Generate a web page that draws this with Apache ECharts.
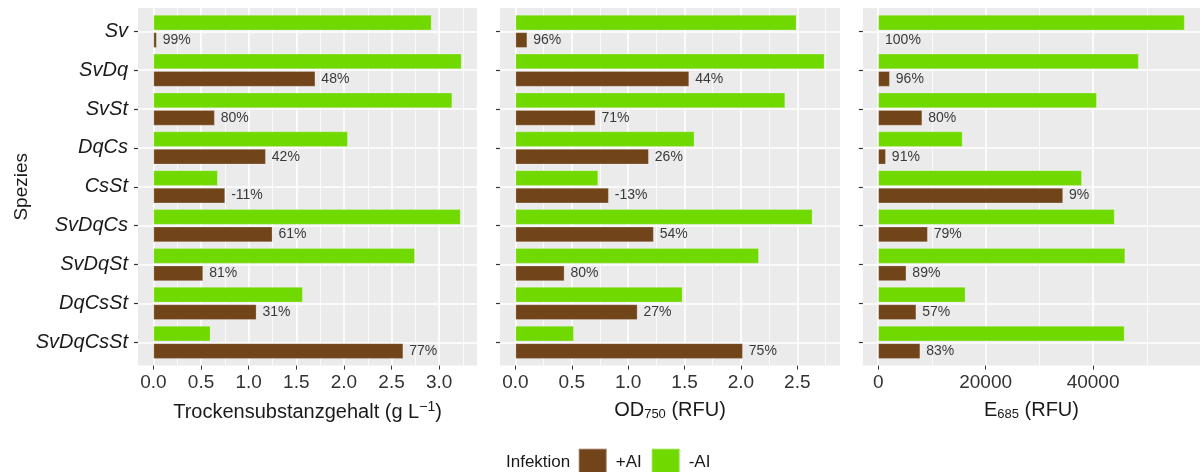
<!DOCTYPE html>
<html>
<head>
<meta charset="utf-8">
<script src="https://cdn.jsdelivr.net/npm/echarts@6/dist/echarts.min.js"></script>
<style>html,body{margin:0;padding:0;background:#fff}#c{width:1200px;height:472px}</style>
</head>
<body>
<div id="c"></div>
<script>
const categories = ['Sv','SvDq','SvSt','DqCs','CsSt','SvDqCs','SvDqSt','DqCsSt','SvDqCsSt'];

const dmMinus = [2.92, 3.235, 3.137, 2.041, 0.676, 3.225, 2.745, 1.568, 0.599];
const dmPlus  = [0.035, 1.70, 0.644, 1.18, 0.753, 1.25, 0.522, 1.082, 2.623];
const dmLabels = ['99%','48%','80%','42%','-11%','61%','81%','31%','77%'];

const odMinus = [2.493, 2.742, 2.393, 1.588, 0.734, 2.635, 2.159, 1.482, 0.518];
const odPlus  = [0.105, 1.541, 0.71, 1.183, 0.828, 1.227, 0.435, 1.083, 2.017];
const odLabels = ['96%','44%','71%','26%','-13%','54%','80%','27%','75%'];

const eMinus = [57060, 48510, 40700, 15700, 37930, 44020, 45990, 16250, 45870];
const ePlus  = [150, 2160, 8200, 1420, 34420, 9230, 5240, 7090, 7830];
const eLabels = ['100%','96%','80%','91%','9%','79%','89%','57%','83%'];

const dmTicks = [0, 0.5, 1, 1.5, 2, 2.5, 3];
const dmMinor = [0.25, 0.75, 1.25, 1.75, 2.25, 2.75, 3.25];
const odTicks = [0, 0.5, 1, 1.5, 2, 2.5];
const odMinor = [0.25, 0.75, 1.25, 1.75, 2.25, 2.75];
const eTicks = [0, 20000, 40000];
const eMinor = [10000, 30000, 50000];

const FONT = '"Liberation Sans", Arial, Helvetica, sans-serif';
const BROWN = '#71441a';
const GREEN = '#70d900';

const panels = [
  {left:138, width:339, minus:dmMinus, plus:dmPlus, labels:dmLabels, ticks:dmTicks, minor:dmMinor,
   fmt: v => v.toFixed(1), name:'{a|Trockensubstanzgehalt (g L}{s|−1}{a|)}', showY:true},
  {left:500, width:340, minus:odMinus, plus:odPlus, labels:odLabels, ticks:odTicks, minor:odMinor,
   fmt: v => v.toFixed(1), name:'{a|OD}{b|750}{a| (RFU)}', showY:false},
  {left:862.9, width:340, minus:eMinus, plus:ePlus, labels:eLabels, ticks:eTicks, minor:eMinor,
   fmt: v => String(v), name:'{a|E}{b|685}{a| (RFU)}', showY:false}
];

const TOP = 8, H = 357.6;
const band = H / (categories.length + 0.2);
const dTop = TOP + 0.1 * band, dH = band * categories.length;

const grid = [], xAxis = [], yAxis = [], series = [];
const catPos = categories.map((_, i) => i + 1);

panels.forEach((p, i) => {
  const M = Math.max(...p.minus, ...p.plus);
  const mn = -0.05 * M, mx = 1.05 * M;
  grid.push({left:p.left, top:TOP, width:p.width, height:H, show:true, backgroundColor:'#ebebeb', borderWidth:0});
  grid.push({left:p.left, top:dTop, width:p.width, height:dH, show:false});
  xAxis.push({
    type:'value', gridIndex:2*i, min:mn, max:mx,
    axisLine:{show:false, onZero:false},
    axisTick:{show:true, length:4, customValues:p.ticks, lineStyle:{color:'#333', width:1}},
    axisLabel:{customValues:p.ticks, formatter:p.fmt, fontSize:19, color:'#333', margin:8, fontFamily:FONT},
    splitLine:{show:true, lineStyle:{color:'#ffffff', width:1.6}},
    name:p.name, nameLocation:'middle', nameGap:35,
    nameTextStyle:{fontFamily:FONT, fontSize:20, color:'#1a1a1a',
      rich:{a:{fontSize:20, color:'#1a1a1a', fontFamily:FONT},
            s:{fontSize:14, color:'#1a1a1a', fontFamily:FONT, verticalAlign:'top', padding:[0,0,10,0]},
            b:{fontSize:13, color:'#1a1a1a', fontFamily:FONT, verticalAlign:'bottom', padding:[6,0,0,0]}}}
  });
  xAxis.push({
    type:'value', gridIndex:2*i, min:mn, max:mx,
    axisLine:{show:false, onZero:false}, axisLabel:{show:false},
    axisTick:{show:false, customValues:p.minor},
    splitLine:{show:true, lineStyle:{color:'#ffffff', width:0.8}}
  });
  xAxis.push({type:'value', gridIndex:2*i+1, min:mn, max:mx, show:false, axisLine:{onZero:false}});
  yAxis.push({
    type:'value', gridIndex:2*i, min:0.4, max:categories.length + 0.6, inverse:true,
    axisLine:{show:false, onZero:false}, axisLabel:{show:false},
    axisTick:{show:false, customValues:catPos},
    splitLine:{show:true, lineStyle:{color:'#ffffff', width:1.6}},
    name: i === 0 ? 'Spezies' : '', nameLocation:'middle', nameGap:107,
    nameTextStyle:{fontFamily:FONT, fontSize:19, color:'#1a1a1a'}
  });
  yAxis.push({
    type:'category', gridIndex:2*i+1, data:categories, inverse:true,
    axisLine:{show:false, onZero:false},
    axisTick:{show:true, alignWithLabel:true, length:4, lineStyle:{color:'#333', width:1.2}},
    axisLabel:{show:p.showY, fontSize:20, fontStyle:'italic', color:'#1a1a1a', margin:10, fontFamily:FONT},
    splitLine:{show:false}
  });
  series.push({
    type:'bar', name:'-AI', xAxisIndex:3*i+2, yAxisIndex:2*i+1, data:p.minus,
    barWidth: band * 0.4, barGap:'12.5%',
    itemStyle:{color:GREEN, borderColor:'rgba(255,255,255,0.3)', borderWidth:0.8},
    emphasis:{disabled:true}, animation:false
  });
  series.push({
    type:'bar', name:'+AI', xAxisIndex:3*i+2, yAxisIndex:2*i+1, data:p.plus,
    barWidth: band * 0.4, barGap:'12.5%',
    itemStyle:{color:BROWN, borderColor:'rgba(255,255,255,0.3)', borderWidth:0.8},
    label:{show:true, position:'right', distance:6, fontSize:14, color:'#3a3a3a', fontFamily:FONT,
      formatter: (labels => prm => labels[prm.dataIndex])(p.labels)},
    emphasis:{disabled:true}, animation:false
  });
});

const chart = echarts.init(document.getElementById('c'), null, {renderer:'canvas'});
chart.setOption({
  animation:false,
  textStyle:{fontFamily:FONT},
  title:{text:'Infektion', left:506, top:453.5, padding:0,
    textStyle:{fontSize:17, fontWeight:'normal', color:'#1a1a1a', fontFamily:FONT}},
  legend:{
    data:['+AI','-AI'], left:577.7, top:447.7, padding:0, itemWidth:28, itemHeight:28, itemGap:9, icon:'rect',
    textStyle:{fontSize:17, color:'#1a1a1a', fontFamily:FONT, padding:[0,0,0,4]},
    selectedMode:false
  },
  grid, xAxis, yAxis, series
});
</script>
</body>
</html>
